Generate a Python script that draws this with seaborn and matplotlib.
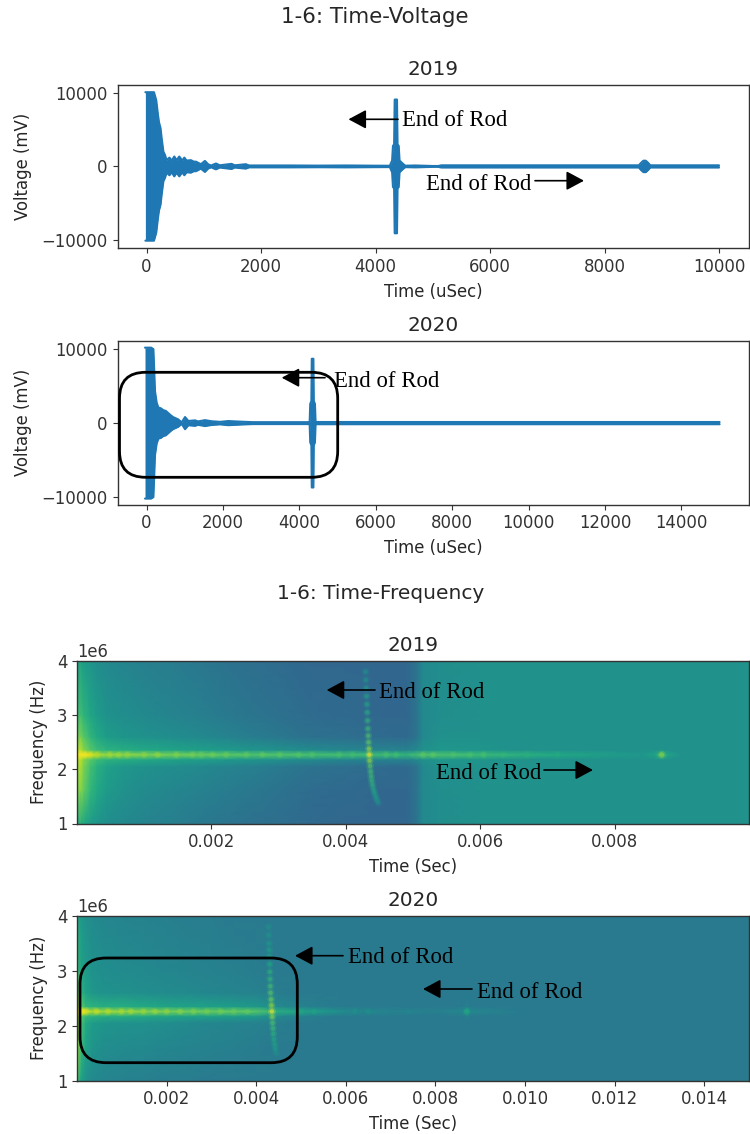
import numpy as np
import matplotlib
matplotlib.use("Agg")
import matplotlib.pyplot as plt
from matplotlib.patches import FancyBboxPatch, FancyArrowPatch
from matplotlib.transforms import IdentityTransform
import seaborn as sns

sns.set_style("ticks")
plt.rcParams.update({"font.family": "DejaVu Sans", "axes.edgecolor": "#333333", "axes.linewidth": 1.0,
                     "xtick.color": "#333333", "ytick.color": "#333333", "text.color": "#262626",
                     "axes.labelcolor": "#262626", "xtick.major.size": 3.5, "ytick.major.size": 3.5,
                     "xtick.major.width": 0.8, "ytick.major.width": 0.8})

BLUE = "#1f77b4"
LABEL = "End of Rod"

# ---------- voltage envelopes (uSec, mV) ----------
t_2019 = [-20, 0, 60, 130, 170, 200, 218, 245, 265, 295, 323, 350, 400, 440, 485, 525, 572, 625, 660, 700, 776, 825,
          863, 950, 1020, 1078, 1130, 1212, 1280, 1485, 1540, 1735, 1790, 2000, 2500, 3000, 3500, 4000, 4250, 4290,
          4305, 4325, 4335, 4375, 4385, 4405, 4420, 4480, 4520, 4700, 5000, 5100, 5150, 8600, 8640, 8680, 8720,
          8760, 8800, 10000]
amp_2019 = [10100, 10100, 10100, 10100, 9000, 7000, 6000, 5200, 3800, 2000, 1550, 850, 1200, 800, 1350, 850, 1350,
            800, 1200, 800, 850, 650, 650, 300, 750, 280, 120, 400, 150, 350, 150, 300, 130, 130, 130, 110, 130, 100,
            90, 800, 2800, 3000, 9100, 9100, 3000, 2800, 800, 350, 100, 130, 60, 60, 150, 150, 500, 780, 780, 500,
            150, 150]

t_2020 = [-40, 0, 60, 120, 180, 222, 266, 310, 375, 440, 505, 570, 635, 700, 830, 920, 1008, 1095, 1270, 1350, 1530,
          1705, 1924, 2140, 2450, 2780, 3100, 4200, 4270, 4285, 4315, 4325, 4368, 4378, 4408, 4425, 4500, 15000]
amp_2020 = [10200, 10200, 10200, 10200, 10000, 4300, 2750, 2100, 2000, 1750, 1650, 1350, 1050, 800, 500, 100, 820,
            290, 370, 230, 400, 250, 170, 280, 200, 130, 130, 130, 150, 2600, 3000, 8700, 8700, 3000, 2600, 150, 150,
            150]

# ---------- spectrogram grids (ms, 1e6 Hz, viridis level) ----------
f_2019 = [1.0, 1.6, 2.05, 2.18, 2.27, 2.36, 2.6, 3.0, 4.0]
tf_2019 = [.006, .05, .1, .2, .3, .45, .7, 1.0, 1.4, 1.8, 2.2, 2.6, 3.0, 3.5, 4.0, 4.5, 4.9, 5.05, 5.15, 5.4, 6.0,
           6.6, 7.2, 7.8, 8.4, 8.6, 8.7, 8.8, 9.0, 10.0]
s19_f10 = [.62, .62, .6, .55, .52, .49, .47, .45, .43, .41, .39, .37, .36, .34, .33, .33, .33, .38, .47, .49, .5, .5, .5, .5, .5, .5, .5, .5, .5, .5]
s19_f16 = [.8, .82, .76, .66, .6, .54, .5, .48, .46, .44, .42, .40, .38, .35, .34, .33, .33, .38, .47, .49, .5, .5, .5, .5, .5, .5, .5, .5, .5, .5]
s19_f20 = [.85, .88, .8, .7, .63, .57, .53, .51, .49, .47, .45, .43, .41, .38, .36, .35, .34, .38, .47, .5, .5, .5, .5, .5, .5, .5, .5, .5, .5, .5]
s19_f22 = [.88, .9, .82, .74, .68, .64, .62, .6, .58, .56, .54, .52, .5, .48, .46, .45, .44, .47, .5, .53, .52, .5, .5, .5, .5, .5, .52, .5, .5, .5]
s19_f23 = [.97, 1, .97, .92, .87, .84, .83, .81, .79, .77, .75, .73, .73, .71, .69, .69, .66, .7, .72, .72, .68, .64, .6, .56, .53, .58, .7, .58, .5, .5]
s19_f26 = [.78, .8, .74, .66, .6, .55, .52, .51, .49, .47, .45, .42, .4, .37, .36, .35, .34, .38, .47, .5, .5, .5, .5, .5, .5, .5, .5, .5, .5, .5]
s19_f30 = [.68, .7, .65, .59, .55, .51, .49, .47, .45, .43, .41, .39, .37, .35, .34, .33, .33, .38, .47, .49, .5, .5, .5, .5, .5, .5, .5, .5, .5, .5]
s19_f40 = [.58, .58, .55, .52, .49, .47, .45, .43, .42, .40, .38, .36, .35, .33, .33, .33, .33, .38, .47, .49, .5, .5, .5, .5, .5, .5, .5, .5, .5, .5]
z_2019 = [s19_f10, s19_f16, s19_f20, s19_f22, s19_f23, s19_f22, s19_f26, s19_f30, s19_f40]

f_2020 = [1.0, 1.6, 2.05, 2.17, 2.26, 2.35, 2.6, 3.0, 4.0]
tf_2020 = [.006, .05, .1, .2, .35, .6, 1, 1.5, 2, 2.5, 3, 3.5, 4, 4.5, 5, 5.5, 6, 7, 8, 8.6, 8.7, 8.8, 10, 12, 15]
s20_f10 = [.75, .62, .56, .5, .47, .45, .44, .43, .42, .42, .41, .41, .41, .41, .41, .41, .41, .41, .41, .41, .41, .41, .41, .41, .41]
s20_f16 = [.88, .76, .66, .57, .52, .49, .48, .47, .46, .45, .44, .43, .42, .41, .41, .41, .41, .41, .41, .41, .41, .41, .41, .41, .41]
s20_f20 = [.88, .8, .7, .6, .55, .52, .51, .5, .49, .47, .46, .45, .44, .42, .41, .41, .41, .41, .41, .41, .41, .41, .41, .41, .41]
s20_f22 = [.9, .84, .74, .66, .64, .62, .62, .6, .58, .57, .56, .55, .53, .47, .44, .42, .41, .41, .41, .41, .43, .41, .41, .41, .41]
s20_f23 = [.95, 1, .95, .9, .88, .86, .84, .82, .8, .78, .77, .76, .74, .63, .58, .54, .48, .45, .43, .47, .55, .47, .41, .41, .41]
s20_f26 = [.82, .74, .64, .57, .53, .51, .5, .49, .48, .47, .46, .45, .44, .42, .41, .41, .41, .41, .41, .41, .41, .41, .41, .41, .41]
s20_f30 = [.72, .63, .58, .54, .51, .49, .48, .47, .46, .45, .44, .43, .42, .41, .41, .41, .41, .41, .41, .41, .41, .41, .41, .41, .41]
s20_f40 = [.62, .56, .53, .5, .48, .46, .45, .44, .43, .42, .42, .41, .41, .41, .41, .41, .41, .41, .41, .41, .41, .41, .41, .41, .41]
z_2020 = [s20_f10, s20_f16, s20_f20, s20_f22, s20_f23, s20_f22, s20_f26, s20_f30, s20_f40]

# end-of-rod echo traces on the spectrograms
echo_t_2019 = [4.295, 4.300, 4.305, 4.310, 4.315, 4.320, 4.325, 4.330, 4.335, 4.340, 4.345, 4.350, 4.355, 4.362, 4.370, 4.378, 4.386, 4.398, 4.412, 4.428, 4.447, 4.465, 4.485]
echo_f_2019 = [3.80, 3.65, 3.50, 3.35, 3.20, 3.05, 2.90, 2.75, 2.62, 2.50, 2.38, 2.27, 2.16, 2.06, 1.96, 1.87, 1.79, 1.71, 1.63, 1.56, 1.49, 1.43, 1.38]
echo_l_2019 = [.50, .52, .55, .57, .60, .62, .65, .68, .72, .76, .85, 1.0, .85, .74, .70, .68, .66, .64, .60, .58, .55, .52, .48]

echo_t_2020 = [4.276, 4.280, 4.285, 4.290, 4.295, 4.300, 4.305, 4.310, 4.315, 4.320, 4.330, 4.340, 4.350, 4.358, 4.365, 4.373, 4.382, 4.395, 4.410, 4.425, 4.448]
echo_f_2020 = [3.80, 3.65, 3.50, 3.38, 3.26, 3.12, 2.98, 2.85, 2.72, 2.60, 2.48, 2.37, 2.26, 2.16, 2.05, 1.95, 1.85, 1.75, 1.66, 1.58, 1.50]
echo_l_2020 = [.50, .52, .54, .56, .58, .60, .64, .66, .70, .74, .78, .85, 1.0, .82, .72, .68, .64, .60, .58, .55, .50]

# bright blotches along the 2.27 MHz ridge
spot_t_2019 = [.12, .2, .3, .49, .62, .75, 1.0, 1.2, 1.48, 1.72, 1.85, 2.02, 2.22, 2.52, 2.76, 3.02, 3.3, 3.5, 3.9, 4.1, 4.6, 4.75, 5.15, 5.3, 5.6, 5.85, 6.05, 6.35, 6.7, 7.15, 7.5, 8.7]
spot_l_2019 = [1.0, .98, .92, .88, .86, .85, .84, .84, .82, .8, .78, .78, .78, .76, .76, .75, .74, .73, .72, .7, .72, .7, .76, .75, .72, .72, .72, .66, .64, .62, .58, .86]
spot_t_2020 = [.12, .2, .43, .69, .99, 1.2, 1.48, 1.74, 2.0, 2.3, 2.6, 2.9, 3.2, 3.5, 3.8, 5.0, 5.3, 6.2, 6.5, 7.4, 8.7]
spot_l_2020 = [1.0, .98, .94, .92, .9, .88, .87, .86, .85, .83, .82, .8, .79, .78, .76, .6, .58, .5, .5, .47, .62]

titles = ["2019", "2020"]
RIDGE_2019 = 2.27
RIDGE_2020 = 2.26


def px(x, y):
    return (x, 1134 - y)


def envelope(ax, t, amp):
    t, amp = np.asarray(t, float), np.asarray(amp, float)
    ax.fill_between(t, -amp, amp, color=BLUE, lw=0)
    sns.lineplot(x=t, y=amp, ax=ax, color=BLUE, lw=1.5, estimator=None, sort=False)
    sns.lineplot(x=t, y=-amp, ax=ax, color=BLUE, lw=1.5, estimator=None, sort=False)


def spots(ax, x, y, level, size, alpha):
    sns.scatterplot(x=np.asarray(x) / 1000, y=np.asarray(y) * 1e6, hue=np.asarray(level), palette="viridis",
                    hue_norm=(0, 1), s=size, alpha=alpha, linewidth=0, legend=False, ax=ax)


def spectro(ax, tf, f, z, et, ef, el, st, sl, ridge):
    ax.pcolormesh(np.asarray(tf) / 1000, np.asarray(f) * 1e6, np.asarray(z), shading="gouraud",
                  cmap="viridis", vmin=0, vmax=1, rasterized=True)
    ry = [ridge] * len(st)
    spots(ax, st, ry, sl, 34, 0.15)
    spots(ax, st, ry, sl, 14, 0.4)
    spots(ax, et, ef, el, 32, 0.22)
    spots(ax, et, ef, el, 10, 0.55)


fig = plt.figure(figsize=(7.5, 11.34), dpi=100)


def make_ax(l, t, r, b):
    return fig.add_axes([l / 750, 1 - b / 1134, (r - l) / 750, (b - t) / 1134])


ax1 = make_ax(117.5, 85, 749, 248)
ax2 = make_ax(117.5, 341, 749, 504.5)
ax3 = make_ax(77.3, 661, 749, 823.5)
ax4 = make_ax(77.3, 916, 749, 1080.5)

envelope(ax1, t_2019, amp_2019)
envelope(ax2, t_2020, amp_2020)
ax1.set(xlim=(-507, 10524), ylim=(-11100, 11080))
ax2.set(xlim=(-760, 15770), ylim=(-11000, 11100))
ax1.set_xticks(range(0, 10001, 2000))
ax2.set_xticks(range(0, 14001, 2000))
for ax in (ax1, ax2):
    ax.set_yticks([-10000, 0, 10000])
    ax.set_xlabel("Time (uSec)", labelpad=5)
    ax.set_ylabel("Voltage (mV)", labelpad=6.5)

spectro(ax3, tf_2019, f_2019, z_2019, echo_t_2019, echo_f_2019, echo_l_2019, spot_t_2019, spot_l_2019, RIDGE_2019)
spectro(ax4, tf_2020, f_2020, z_2020, echo_t_2020, echo_f_2020, echo_l_2020, spot_t_2020, spot_l_2020, RIDGE_2020)
ax3.set(xlim=(6e-6, 0.01), ylim=(1e6, 4e6))
ax4.set(xlim=(6e-6, 0.015), ylim=(1e6, 4e6))
ax3.set_xticks([.002, .004, .006, .008])
ax4.set_xticks([.002, .004, .006, .008, .010, .012, .014])
ax3.set_xticklabels(["0.002", "0.004", "0.006", "0.008"])
ax4.set_xticklabels(["0.002", "0.004", "0.006", "0.008", "0.010", "0.012", "0.014"])
for ax in (ax3, ax4):
    ax.set_yticks([1e6, 2e6, 3e6, 4e6])
    ax.set_xlabel("Time (Sec)", labelpad=5)
    ax.set_ylabel("Frequency (Hz)", labelpad=6.5)
for ax in (ax1, ax2, ax3, ax4):
    ax.tick_params(labelsize=11.9)
    ax.xaxis.label.set_size(11.9)
    ax.yaxis.label.set_size(11.9)
    ax.yaxis.get_offset_text().set_size(11.9)

for ax, title in zip((ax1, ax2, ax3, ax4), titles * 2):
    ax.set_title(title, fontsize=14.4, pad=7)

fig.text(375 / 750, 1 - 17 / 1134, "1-6: Time-Voltage", ha="center", va="center", fontsize=15.4)
fig.text(381 / 750, 1 - 593 / 1134, "1-6: Time-Frequency", ha="center", va="center", fontsize=14.5)

# annotations: (text x, text y, arrow tail x, arrow tip x, arrow y)
notes = [(402, 121, 398, 348.5, 119.3), (426.5, 184, 535, 584, 180.7), (334, 381, 325, 281.7, 377.7),
         (379, 692, 375, 326.7, 690), (435.7, 773.5, 544, 593, 770), (348, 957.5, 343, 295, 955.7),
         (477, 992, 472, 423, 989)]
for tx, ty, tail, tip, ay in notes:
    fig.text(tx / 750, 1 - ty / 1134, LABEL, family="Liberation Serif", fontsize=16.4, color="black",
             ha="left", va="center", zorder=10)
    fig.add_artist(FancyArrowPatch(px(tail, ay), px(tip, ay), arrowstyle="-|>,head_length=1.08,head_width=0.58",
                                   mutation_scale=10, color="black", lw=1.2, shrinkA=0, shrinkB=0,
                                   transform=IdentityTransform(), zorder=10))

for l, t, r, b in [(119.5, 372.3, 337.7, 477.3), (80, 958, 297.3, 1062.7)]:
    x0, y0 = px(l, b)
    fig.add_artist(FancyBboxPatch((x0, y0), r - l, b - t, boxstyle="round,pad=0,rounding_size=26",
                                  fc="none", ec="black", lw=2.0, transform=IdentityTransform(), zorder=9))

fig.savefig("out.png", dpi=100)
